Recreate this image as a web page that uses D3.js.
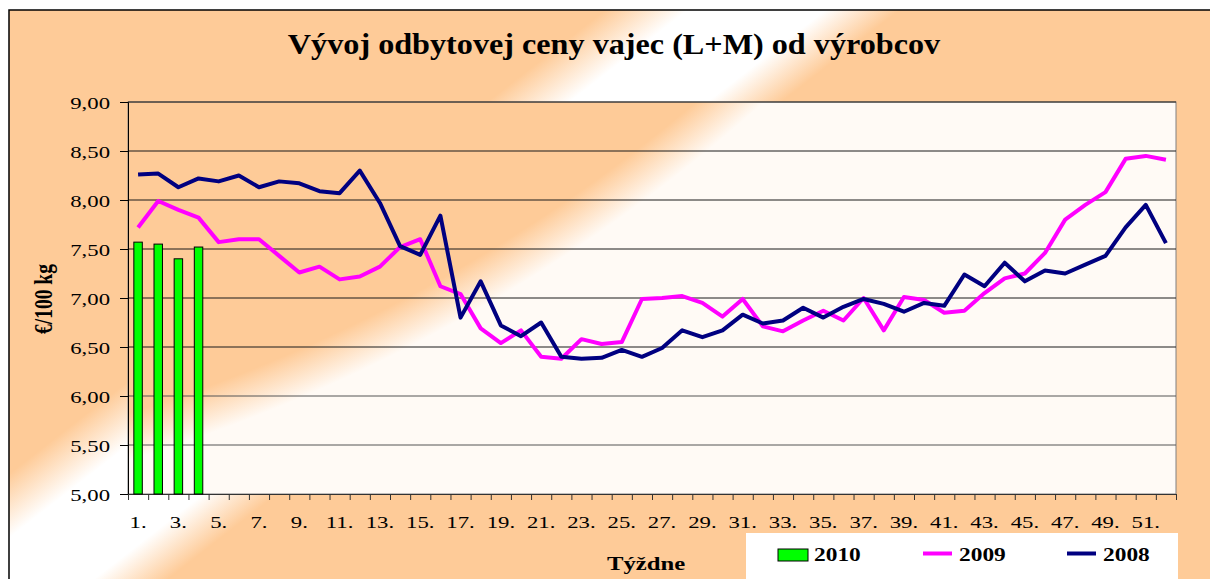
<!DOCTYPE html>
<html>
<head>
<meta charset="utf-8">
<script src="https://cdn.jsdelivr.net/npm/d3@7"></script>
<style>
  body { margin: 0; background: #fff; }
  text { font-family: "Liberation Serif", "Times New Roman", serif; fill: #000; }
</style>
</head>
<body>
<script>
// data (€/100 kg per week)
var weeks = d3.range(1, 53);
var y2010 = [7.57, 7.55, 7.40, 7.52];
var y2009 = [7.72, 7.99, 7.90, 7.82, 7.57, 7.60, 7.60, 7.43, 7.26, 7.32,
             7.19, 7.22, 7.32, 7.52, 7.60, 7.12, 7.04, 6.69, 6.54, 6.67,
             6.40, 6.38, 6.58, 6.53, 6.55, 6.99, 7.00, 7.02, 6.95, 6.81,
             6.99, 6.71, 6.66, 6.77, 6.87, 6.77, 7.00, 6.67, 7.01, 6.98,
             6.85, 6.87, 7.05, 7.20, 7.25, 7.46, 7.80, 7.95, 8.08, 8.42,
             8.45, 8.41];
var y2008 = [8.26, 8.27, 8.13, 8.22, 8.19, 8.25, 8.13, 8.19, 8.17, 8.09,
             8.07, 8.30, 7.97, 7.53, 7.44, 7.84, 6.80, 7.17, 6.72, 6.61,
             6.75, 6.40, 6.38, 6.39, 6.47, 6.40, 6.49, 6.67, 6.60, 6.67,
             6.83, 6.74, 6.77, 6.90, 6.80, 6.91, 6.99, 6.94, 6.86, 6.95,
             6.92, 7.24, 7.12, 7.36, 7.17, 7.28, 7.25, 7.34, 7.43, 7.72,
             7.95, 7.56];
var yTicks = [5, 5.5, 6, 6.5, 7, 7.5, 8, 8.5, 9];
var xLabels = weeks.filter(function(w){ return w % 2 == 1; });
var seriesNames = ["2010", "2009", "2008"];

var width = 1210, height = 579;
var plot = {left: 128, top: 102, right: 1176, bottom: 494};
var sx = 1.3; // the whole picture is stretched sideways
var orange = "#FECB98", paper = "#FFFAF5";

var svg = d3.select("body").append("svg")
    .attr("width", width)
    .attr("height", height);

var defs = svg.append("defs");
function addStops(g, stops){
  stops.forEach(function(s){
    g.append("stop").attr("offset", s[0]).attr("stop-color", s[1]);
  });
}
// chart area: orange with a white diagonal band
addStops(defs.append("linearGradient").attr("id", "outerGrad")
    .attr("gradientUnits", "userSpaceOnUse")
    .attr("x1", 0).attr("y1", 0).attr("x2", 798).attr("y2", 1026),
  [[0, orange], [0.292, orange], [0.331, "#fff"], [0.396, "#fff"], [0.431, orange], [1, orange]]);
// plot area: orange corner fading to near white
addStops(defs.append("radialGradient").attr("id", "plotGrad")
    .attr("gradientUnits", "userSpaceOnUse")
    .attr("cx", -356).attr("cy", -1142).attr("r", 1800),
  [[0, orange], [0.905, orange], [0.93, paper], [1, paper]]);

svg.append("rect")
    .attr("x", 9).attr("y", 10)
    .attr("width", width + 20).attr("height", height + 20)
    .attr("fill", "url(#outerGrad)")
    .attr("stroke", "#000").attr("stroke-width", 1.5);

svg.append("rect")
    .attr("x", plot.left).attr("y", plot.top)
    .attr("width", plot.right - plot.left).attr("height", plot.bottom - plot.top)
    .attr("fill", "url(#plotGrad)")
    .attr("stroke", "#808080");

var x = d3.scaleBand().domain(weeks).range([plot.left, plot.right]).padding(0);
var xEdge = d3.scaleLinear().domain([0, 52]).range([plot.left, plot.right]);
var y = d3.scaleLinear().domain([5, 9]).range([plot.bottom, plot.top]);

// gridlines
svg.append("g").selectAll("line")
  .data(yTicks.slice(1))
  .enter().append("line")
    .attr("x1", plot.left).attr("x2", plot.right)
    .attr("y1", function(d){ return y(d); })
    .attr("y2", function(d){ return y(d); })
    .attr("stroke", function(d){ return d < 6.5 ? "#555" : "#1a1a1a"; })
    .attr("stroke-width", 1);

function font(sel, fs, weight){
  sel.attr("font-family", "Liberation Serif, Times New Roman, serif")
     .attr("font-size", fs)
     .attr("font-weight", weight || "normal");
}

// y axis
var yAxis = svg.append("g")
    .attr("transform", "translate(" + plot.left + ",0)")
    .call(d3.axisLeft(y).tickValues(yTicks).tickSize(8)
      .tickFormat(function(d){ return d.toFixed(2).replace(".", ","); }));
yAxis.select(".domain").attr("stroke", "#000");
yAxis.selectAll(".tick line").attr("stroke", "#000");
yAxis.selectAll(".tick text")
    .call(font, 17.5)
    .attr("x", -18 / sx).attr("dy", null).attr("y", 6)
    .attr("transform", "scale(" + sx + ",1)");

// x axis: tick marks at category edges, labels on odd weeks
var xTicks = svg.append("g")
    .attr("transform", "translate(0," + plot.bottom + ")")
    .call(d3.axisBottom(xEdge).tickValues(d3.range(0, 53)).tickSize(6).tickFormat(""));
xTicks.select(".domain").attr("stroke", "#333");
xTicks.selectAll(".tick line").attr("stroke", "#333");

var xAxis = svg.append("g")
    .attr("transform", "translate(0," + plot.bottom + ")")
    .call(d3.axisBottom(x).tickValues(xLabels).tickSize(0)
      .tickFormat(function(d){ return d + "."; }));
xAxis.select(".domain").remove();
xAxis.selectAll(".tick text")
    .call(font, 17.5)
    .attr("dy", null).attr("y", 34)
    .attr("transform", "scale(" + sx + ",1)");

// 2010 bars
var bw = x.bandwidth() * 0.42;
svg.append("g").selectAll("rect")
  .data(y2010)
  .enter().append("rect")
    .attr("x", function(d, i){ return x(weeks[i]) + (x.bandwidth() - bw) / 2; })
    .attr("y", function(d){ return y(d); })
    .attr("width", bw)
    .attr("height", function(d){ return y(5) - y(d); })
    .attr("fill", "#00FF00")
    .attr("stroke", "#000").attr("stroke-width", 1);

// lines
var line = d3.line()
    .x(function(d, i){ return x(weeks[i]) + x.bandwidth() / 2; })
    .y(function(d){ return y(d); });

svg.append("path").datum(y2009)
    .attr("d", line).attr("fill", "none")
    .attr("stroke", "#FF00FF").attr("stroke-width", 4).attr("stroke-linejoin", "round");
svg.append("path").datum(y2008)
    .attr("d", line).attr("fill", "none")
    .attr("stroke", "#000080").attr("stroke-width", 4).attr("stroke-linejoin", "round");

// titles
function label(px, py, str, fs, weight, scale, rot){
  var g = svg.append("g")
      .attr("transform", "translate(" + px + "," + py + ") scale(" + scale + ",1)" + (rot ? " rotate(" + rot + ")" : ""));
  return g.append("text").text(str)
      .attr("text-anchor", "middle")
      .call(font, fs, weight);
}
label(614, 54, "Vývoj odbytovej ceny vajec (L+M) od výrobcov", 29, "bold", 1.11);
label(52, 299, "€/100 kg", 19.5, "bold", sx, -90);
label(646, 570, "Týždne", 19, "bold", sx);

// legend
svg.append("rect")
    .attr("x", 746).attr("y", 533).attr("width", 432).attr("height", 50)
    .attr("fill", "#fff");
var legX = [778, 923, 1067];
var legColors = ["#00FF00", "#FF00FF", "#000080"];
seriesNames.forEach(function(name, i){
  if (i == 0) {
    svg.append("rect").attr("x", legX[i]).attr("y", 549).attr("width", 30).attr("height", 12)
        .attr("fill", legColors[i]).attr("stroke", "#000").attr("stroke-width", 1);
  } else {
    svg.append("line").attr("x1", legX[i]).attr("x2", legX[i] + 29)
        .attr("y1", 553.5).attr("y2", 553.5)
        .attr("stroke", legColors[i]).attr("stroke-width", 4);
  }
  var t = svg.append("g").attr("transform", "translate(" + (legX[i] + 36) + ",561) scale(" + sx + ",1)");
  t.append("text").text(name).call(font, 18, "bold");
});
</script>
</body>
</html>
